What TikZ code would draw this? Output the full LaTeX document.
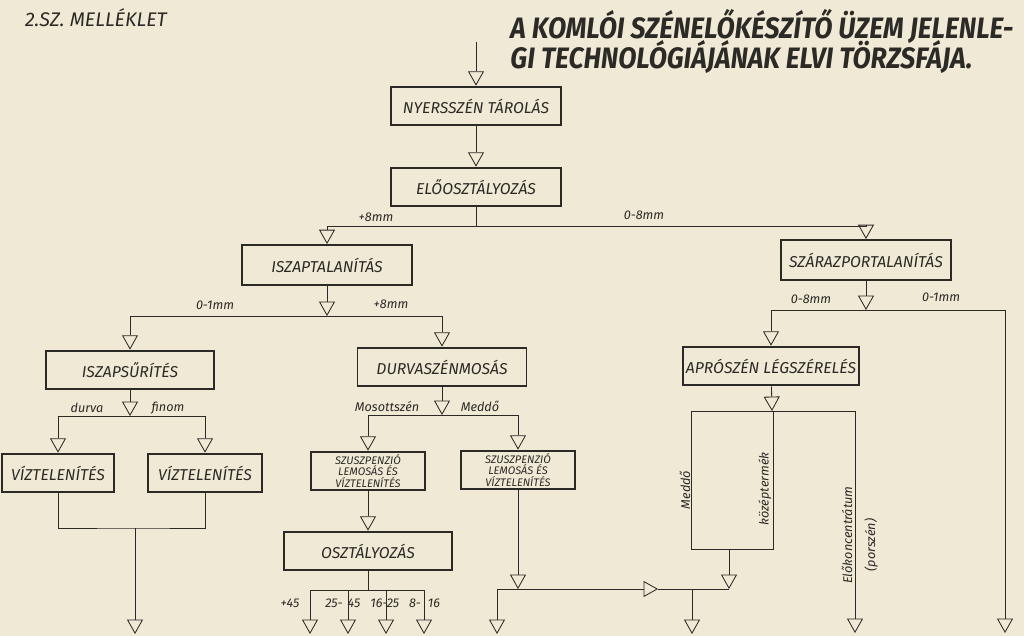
\documentclass[tikz,border=0pt]{standalone}
\usepackage{fontspec}
\setmainfont{Fira Sans}
\newfontfamily\titlefont[FakeStretch=0.9]{Fira Sans}
\newcommand\TitleFont{\titlefont\fontsize{21}{21.5}\selectfont\bfseries\itshape\lineskiplimit=-50pt\relax}
\usetikzlibrary{arrows.meta,positioning,calc}
\definecolor{PaperBeige}{HTML}{F0E9D5}
\definecolor{InkGrey}{HTML}{2B2A26}

\tikzset{
  stage/.style={draw=InkGrey,line width=1.3pt,minimum height=0.97cm,inner sep=2pt,
    font=\fontsize{11.2}{12}\selectfont\itshape},
  slurrybox/.style={stage,align=center,font=\fontsize{7.8}{8}\selectfont\itshape},
  flow/.style={-{Triangle[open,length=0.36cm,width=0.4cm]}},
  cut/.style={font=\fontsize{9}{10}\selectfont\itshape,inner sep=1pt},
}

\begin{document}
\begin{tikzpicture}[x=0.025cm,y=-0.025cm,color=InkGrey,line width=0.6pt]
  \fill[PaperBeige] (0,0) rectangle (1024,636);
  \useasboundingbox (0,0) rectangle (1024,636);

  % headings
  \node[anchor=west,font=\fontsize{14}{15}\selectfont\itshape] (annex) at (20,18) {2.SZ. MELLÉKLET};
  \node[anchor=north west,align=left,inner sep=0pt,font=\TitleFont] (title) at (510,9)
    {A KOMLÓI SZÉNELŐKÉSZÍTŐ ÜZEM JELENLE-\\GI TECHNOLÓGIÁJÁNAK ELVI TÖRZSFÁJA.};

  % process stages
  \node[stage,minimum width=4.25cm] (nyers) at (476,106) {NYERSSZÉN TÁROLÁS};
  \node[stage,minimum width=4.25cm] (elooszt) at (476,187) {ELŐOSZTÁLYOZÁS};
  \node[stage,minimum width=4.25cm,minimum height=1cm] (iszaptal) at (327,265) {ISZAPTALANÍTÁS};
  \node[stage,minimum width=4.25cm,minimum height=1cm] (szaraz) at (866,260) {SZÁRAZPORTALANÍTÁS};
  \node[stage,minimum width=4.2cm] (iszapsur) at (130,370) {ISZAPSŰRÍTÉS};
  \node[stage,minimum width=4.22cm] (durva) at (442,367) {DURVASZÉNMOSÁS};
  \node[stage,minimum width=4.2cm] (apro) at (771,366) {APRÓSZÉN LÉGSZÉRELÉS};
  \node[stage,minimum width=2.8cm] (vizA) at (58,473) {VÍZTELENÍTÉS};
  \node[stage,minimum width=2.85cm] (vizB) at (205,473) {VÍZTELENÍTÉS};
  \node[slurrybox,minimum width=2.83cm] (suszA) at (368,471) {SZUSZPENZIÓ\\LEMOSÁS ÉS\\VÍZTELENÍTÉS};
  \node[slurrybox,minimum width=2.83cm] (suszB) at (518,470) {SZUSZPENZIÓ\\LEMOSÁS ÉS\\VÍZTELENÍTÉS};
  \node[stage,minimum width=4.18cm] (oszt) at (368,551) {OSZTÁLYOZÁS};

  % raw coal in
  \coordinate (feed) at (476,42);
  \draw[flow] (feed) -- (nyers.north);
  \draw[flow] (nyers) -- (elooszt.north);

  % pre-screening
  \coordinate (split1) at (476,226);
  \draw (elooszt) -- (split1);
  \draw[flow] (split1) -| (iszaptal.north);
  \draw[flow] (split1) -| (szaraz.north);
  \node[cut] (c1) at (376,217) {+8mm};
  \node[cut] (c2) at (644,215) {0-8mm};

  % desliming
  \coordinate (split2) at (327,316);
  \draw[flow] (iszaptal) -- (split2);
  \draw[flow] (split2) -| (iszapsur.north);
  \draw[flow] (split2) -| (durva.north);
  \node[cut] (c3) at (215,305) {0-1mm};
  \node[cut] (c4) at (391,304) {+8mm};

  % dry dedusting
  \coordinate (split3) at (866,310);
  \coordinate (fine) at (1005,633);
  \draw[flow] (szaraz) -- (split3);
  \draw[flow] (split3) -| (apro.north);
  \draw[flow] (split3) -| (fine);
  \node[cut] (c5) at (811,299) {0-8mm};
  \node[cut] (c6) at (941,297) {0-1mm};

  % slime thickening
  \coordinate (split4) at (130,416);
  \draw[flow] (iszapsur) -- (split4);
  \draw[flow] (split4) -| (vizA.north);
  \draw[flow] (split4) -| (vizB.north);
  \node[cut] (c7) at (87,408) {durva};
  \node[cut] (c8) at (168,408) {finom};
  \coordinate (merge1) at (135,528);
  \coordinate (slime) at (135,634);
  \draw (vizA.south) |- (merge1) -| (vizB.south);
  \draw[flow] (merge1) -- (slime);

  % coarse washing
  \coordinate (split5) at (442,415);
  \draw[flow] (durva) -- (split5);
  \draw[flow] (split5) -| (suszA.north);
  \draw[flow] (split5) -| (suszB.north);
  \node[cut] (c9) at (387,407) {Mosottszén};
  \node[cut] (c10) at (480,406) {Meddő};

  % sizing
  \draw[flow] (suszA) -- (oszt.north);
  \coordinate (split6) at (368,590);
  \draw (oszt) -- (split6);
  \foreach \k/\x in {1/310,2/348,3/386,4/424}
    \coordinate (size\k) at (\x,634);
  \draw (split6 -| size1) -- (split6 -| size4);
  \foreach \k in {1,...,4}
    \draw[flow] (split6 -| size\k) -- (size\k);
  \foreach \n/\x/\t in {s1/290/+45,s2/334/25-,s3/354/45,s4/379/16-,s5/393/25,s6/415/8-,s7/434/16}
    \node[cut] (\n) at (\x,603) {\t};

  % refuse line
  \coordinate (split7) at (518,589);
  \coordinate (waste) at (497,634);
  \coordinate (turn) at (658,589);
  \coordinate (join) at (729,589);
  \coordinate (tailing) at (692,634);
  \draw[flow] (suszB) -- (split7);
  \draw (waste |- split7) -- (split7);
  \draw[flow] (waste |- split7) -- (waste);
  \draw[flow] (split7) -- (turn);
  \draw (turn) -- (join);
  \draw[flow] (tailing |- join) -- (tailing);

  % air separation
  \coordinate (split8) at (772,411);
  \coordinate (frameNW) at (691,411);
  \coordinate (frameSE) at (773,549);
  \coordinate (middle) at (729,549);
  \coordinate (conc) at (855,633);
  \draw[flow] (apro) -- (split8);
  \draw (frameNW) rectangle (frameSE);
  \draw[flow] (split8) -| (conc);
  \draw[flow] (middle) -- (join);
  \node[cut,rotate=90] (meddo2) at (685,490) {Meddő};
  \node[cut,rotate=90] (kozep) at (765,489) {középtermék};
  \node[cut,rotate=90] (eloconc) at (847,535) {Előkoncentrátum};
  \node[cut,rotate=90] (porszen) at (871,545) {(porszén)};
\end{tikzpicture}
\end{document}
